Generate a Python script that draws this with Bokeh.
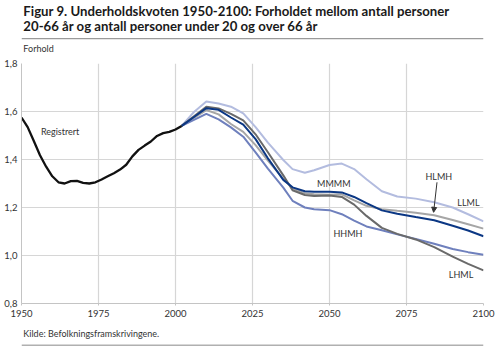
from bokeh.plotting import figure
from bokeh.layouts import column
from bokeh.models import FixedTicker, Label, Arrow, NormalHead, Range1d
from bokeh.core.properties import value
from bokeh.embed import file_html
from bokeh.resources import INLINE

# ---- data ----
reg_years = [1950, 1952, 1954, 1956, 1958, 1960, 1962, 1964, 1966, 1968, 1970, 1972, 1974,
             1976, 1978, 1980, 1982, 1984, 1986, 1988, 1990, 1992, 1994, 1996, 1998, 2000, 2002]
reg_vals = [1.575, 1.535, 1.477, 1.418, 1.370, 1.330, 1.305, 1.300, 1.310, 1.311, 1.303, 1.300, 1.305,
            1.317, 1.330, 1.343, 1.358, 1.378, 1.413, 1.440, 1.458, 1.475, 1.498, 1.510, 1.515, 1.525, 1.540]

proj_years = [2002, 2006, 2010, 2014, 2018, 2022, 2026, 2030, 2035, 2038, 2042, 2045, 2050, 2054,
              2058, 2062, 2067, 2072, 2078, 2084, 2090, 2095, 2100]
llml = [1.540, 1.598, 1.642, 1.633, 1.620, 1.592, 1.535, 1.470, 1.398, 1.360, 1.345, 1.355, 1.377, 1.383,
        1.360, 1.318, 1.268, 1.246, 1.237, 1.222, 1.200, 1.172, 1.142]
hlmh = [1.540, 1.573, 1.606, 1.588, 1.548, 1.515, 1.460, 1.395, 1.320, 1.280, 1.259, 1.255, 1.253, 1.255,
        1.230, 1.207, 1.193, 1.186, 1.178, 1.168, 1.148, 1.130, 1.112]
hhmh = [1.540, 1.565, 1.590, 1.567, 1.534, 1.495, 1.430, 1.362, 1.283, 1.228, 1.200, 1.193, 1.189, 1.172,
        1.145, 1.121, 1.105, 1.088, 1.069, 1.049, 1.027, 1.014, 1.003]
lhml = [1.540, 1.580, 1.620, 1.613, 1.590, 1.563, 1.505, 1.430, 1.334, 1.272, 1.252, 1.248, 1.250, 1.244,
        1.212, 1.165, 1.115, 1.090, 1.067, 1.035, 0.995, 0.965, 0.938]
mmmm = [1.540, 1.577, 1.614, 1.607, 1.575, 1.545, 1.485, 1.405, 1.315, 1.284, 1.268, 1.266, 1.266, 1.263,
        1.244, 1.218, 1.188, 1.174, 1.160, 1.147, 1.124, 1.104, 1.080]

x_ticks = [1950, 1975, 2000, 2025, 2050, 2075, 2100]
y_ticks = [0.8, 1.0, 1.2, 1.4, 1.6, 1.8]
y_tick_labels = ["0,8", "1,0", "1,2", "1,4", "1,6", "1,8"]

title_lines = ["Figur 9. Underholdskvoten 1950-2100: Forholdet mellom antall personer",
               "20-66 år og antall personer under 20 og over 66 år"]
y_unit = "Forhold"
source = "Kilde: Befolkningsframskrivingene."

series_labels = ["Registrert", "MMMM", "HHMH", "HLMH", "LLML", "LHML"]

FONT = "Lato"
TXT = "#333333"
SMALL = "9px"
W = 499
H_HEAD, H_MAIN, H_FOOT = 56, 269, 21


def blank(h):
    f = figure(width=W, height=h, output_backend="svg", toolbar_location=None,
               x_range=Range1d(0, W), y_range=Range1d(h, 0),
               x_axis_type=None, y_axis_type=None, min_border=0)
    f.outline_line_color = None
    f.background_fill_color = "white"
    f.border_fill_color = "white"
    return f


# ---- header ----
head = blank(H_HEAD)
head.text(x=[2, 2], y=[2.5, 17.5], text=title_lines, text_font=value(FONT),
          text_font_size=value("13.2px"), text_font_style="bold", text_color="#1a1a1a",
          text_baseline="top", text_align="left")
head.segment(x0=[0], y0=[38.2], x1=[W], y1=[38.2], line_color="#9a9a9a", line_width=1.3)
head.text(x=[2], y=[47.5], text=[y_unit], text_font=value(FONT), text_font_size=value(SMALL),
          text_color=TXT, text_baseline="middle", text_align="left")

# ---- main chart ----
p = figure(width=W, height=H_MAIN, output_backend="svg", toolbar_location=None,
           x_range=Range1d(1950, 2100), y_range=Range1d(0.8, 1.8),
           min_border_left=21, min_border_right=16, min_border_top=7, min_border_bottom=22)
p.outline_line_color = None
p.background_fill_color = "white"
p.border_fill_color = "white"

for ax in (p.xaxis[0], p.yaxis[0]):
    ax.axis_line_color = "#c4c4c4"
    ax.major_tick_line_color = "#c4c4c4"
    ax.major_tick_in = 0
    ax.major_tick_out = 2
    ax.minor_tick_line_color = None
    ax.major_label_text_font = FONT
    ax.major_label_text_font_size = "9.5px"
    ax.major_label_text_color = TXT
p.xaxis.ticker = FixedTicker(ticks=x_ticks)
p.yaxis.ticker = FixedTicker(ticks=y_ticks)
p.yaxis.major_label_overrides = {t: l for t, l in zip(y_ticks, y_tick_labels)}
p.xaxis.major_label_standoff = 4
p.yaxis.major_label_standoff = 4
p.yaxis.major_tick_out = 0

p.xgrid.ticker = FixedTicker(ticks=x_ticks[1:])
p.ygrid.ticker = FixedTicker(ticks=y_ticks[1:-1])
p.xgrid.grid_line_color = "#d6d6d6"
p.ygrid.grid_line_color = "#d6d6d6"
p.xgrid.grid_line_width = 1.2
p.ygrid.grid_line_width = 1.2

lw = 2.0
p.line(proj_years, llml, color="#b3bcdf", line_width=lw)
p.line(proj_years, hlmh, color="#a6a6a6", line_width=lw)
p.line(proj_years, hhmh, color="#6f80bd", line_width=lw)
p.line(proj_years, lhml, color="#6a6a6a", line_width=lw)
p.line(proj_years, mmmm, color="#0b3784", line_width=lw)
p.line(reg_years, reg_vals, color="#111111", line_width=2.3)

lab_pos = [(1956.3, 1.517, "left"), (2051.4, 1.302, "center"), (2056.0, 1.090, "center"),
           (2085.5, 1.330, "center"), (2095.1, 1.219, "center"), (2092.7, 0.920, "center")]
for name, (lx, ly, al) in zip(series_labels, lab_pos):
    p.add_layout(Label(x=lx, y=ly, text=name, text_font=FONT, text_font_size=SMALL,
                       text_color=TXT, text_align=al, text_baseline="middle"))

p.add_layout(Arrow(end=NormalHead(size=5, fill_color="#333333", line_color="#333333"),
                   x_start=2084.9, y_start=1.305, x_end=2083.8, y_end=1.18,
                   line_color="#333333", line_width=1))

# ---- footer ----
foot = blank(H_FOOT)
foot.text(x=[2], y=[8], text=[source], text_font=value(FONT), text_font_size=value(SMALL),
          text_color=TXT, text_baseline="middle", text_align="left")
foot.quad(left=[0], right=[W], top=[19], bottom=[21], fill_color="#b0b0b0", line_color=None)

layout = column(head, p, foot, spacing=0)
open("out.html", "w").write(file_html(layout, INLINE))
